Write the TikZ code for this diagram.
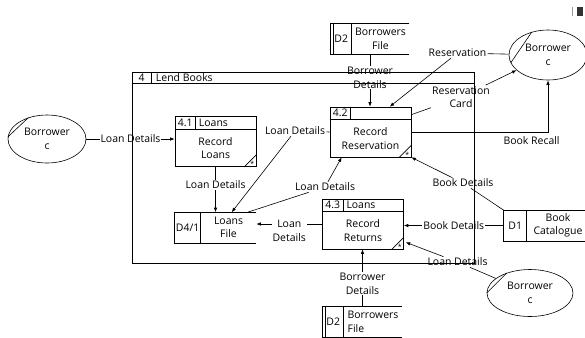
\documentclass[tikz,border=0pt]{standalone}
\usepackage{fontspec}
\setmainfont{Open Sans}
\usetikzlibrary{arrows.meta,positioning,shapes.geometric,calc}

\tikzset{
  pbox/.style={draw, minimum width=81bp, minimum height=50bp, inner sep=0pt},
  store/.style={minimum height=30bp, inner sep=0pt},
  ent/.style={draw, ellipse, align=center, inner sep=0pt},
  lbl/.style={fill=white, align=center, inner sep=1pt},
  flow/.style={-{Latex[length=4.5pt,width=3.5pt]}},
}

% process box: name, centre, number, title, text
\newcommand{\procbox}[5]{%
  \node[pbox] (#1) at (#2) {};
  \draw ($(#1.north west)+(0,13)$) -- ($(#1.north east)+(0,13)$);
  \draw ($(#1.north west)+(21,0)$) -- ($(#1.north west)+(21,13)$);
  \node at ($(#1.north west)+(10.5,6.5)$) {#3};
  \node[anchor=west] at ($(#1.north west)+(23,6.5)$) {#4};
  \node[align=center] at ($(#1.center)+(0,6.5)$) {#5};
  \draw ($(#1.south east)+(-12,0)$) -- ($(#1.south east)+(0,-12)$);
  \node[font=\fontsize{7}{7}\selectfont, inner sep=0pt] at ($(#1.south east)+(-4,-2.5)$) {*};
}

% data store: [align] name, centre, width, id width, id, text
\newcommand{\datastore}[7][center]{%
  \node[store, minimum width=#4] (#2) at (#3) {};
  \draw (#2.north east) -- (#2.north west) -- (#2.south west) -- (#2.south east);
  \draw ([xshift=#5]#2.north west) -- ([xshift=#5]#2.south west);
  \node at ($(#2.west)!0.5!([xshift=#5]#2.west)$) {#6};
  \node[align=#1] at ($([xshift=#5]#2.west)!0.5!(#2.east)$) {#7};
}

\begin{document}
\begin{tikzpicture}[x=1bp, y=-1bp, line width=0.6pt,
    every node/.style={font=\fontsize{10.5}{13.5}\selectfont, inner sep=1pt}]
  \useasboundingbox (0,0) rectangle (585,337);

  % external entities
  \node[ent, minimum width=78bp, minimum height=48bp] (eL) at (47,139) {Borrower\\c};
  \node[ent, minimum width=78bp, minimum height=50bp] (eR) at (548,55) {Borrower\\c};
  \node[ent, minimum width=86bp, minimum height=47bp] (eB) at (530,293) {Borrower\\c};
  \draw (eL.177) -- (eL.131);
  \draw (eR.192) -- (eR.125);
  \draw (eB.180) -- (eB.139);

  % processes
  \procbox{p41}{215.5,141.5}{4.1}{Loans}{Record\\Loans}
  \procbox{p42}{370.5,132}{4.2}{}{Record\\Reservation}
  \procbox{p43}{363,224}{4.3}{Loans}{Record\\Returns}

  % data stores
  \datastore{d41}{215.5,227.5}{81bp}{26bp}{D4/1}{Loans\\File}
  \datastore{d2t}{370,39}{78bp}{21bp}{D2}{Borrowers\\File}
  \datastore[left]{d2b}{362.5,322}{79bp}{21bp}{D2}{Borrowers\\File}
  \datastore{d1}{546.5,225.5}{85bp}{23bp}{D1}{Book\\Catalogue}
  \draw ([xshift=3bp]d2t.north west) -- ([xshift=3bp]d2t.south west);
  \draw ([xshift=3bp]d2b.north west) -- ([xshift=3bp]d2b.south west);

  % labels at bends
  \node (lpl) at (295,131) {Loan Details};
  \node (lld) at (325,187) {Loan Details};
  \node (lres) at (457.5,53) {Reservation};
  \node[align=center] (lrc) at (461,97) {Reservation\\Card};
  \node (lbd) at (463,183) {Book Details};
  \node (llr) at (457.5,262) {Loan Details};

  % data flows
  \draw[flow] (eL.east) -- node[lbl]{Loan Details} (eL.east -| p41.west);
  \draw[flow] (p41.south) -- node[lbl, pos=0.4]{Loan Details} (p41.south |- d41.north);
  \draw[flow] (p42.west) -- (lpl) -- ($(d41.north west)+(57,0)$);
  \draw[flow] ($(d41.north west)+(73,0)$) -- (lld) -- ($(p42.south west)+(12,0)$);
  \draw[flow] (p43.west) -- node[lbl, yshift=-6.75bp]{Loan\\Details} (p43.west -| d41.east);
  \draw[flow] (d1.west) -- node[lbl]{Book Details} (d1.west -| p43.east);
  \draw[flow] (d1.north west) -- (lbd) -- (p42.south east);
  \draw[flow] (d2t.south) -- node[lbl, pos=0.45]{Borrower\\Details} (d2t.south |- p42.north);
  \draw[flow] (eR) -- (lres) -- ($(p42.north west)+(60,0)$);
  \draw[flow] ($(p42.north east)+(0,8)$) -- (lrc) -- (eR);
  \draw[flow] (p42.east) -| node[pos=0.44, below=3bp]{Book Recall} (eR.south);
  \draw[flow] (eB) -- (llr) -- ($(p43.south east)+(2,-7)$);
  \draw[flow] (d2b.north) -- node[lbl, pos=0.4]{Borrower\\Details} (d2b.north |- p43.south);

  % lend books frame
  \node[draw, minimum width=342bp, minimum height=191bp, inner sep=0pt] (lend) at (303,167.5) {};
  \draw ($(lend.north west)+(0,12)$) -- ($(lend.north east)+(0,12)$);
  \draw ($(lend.north west)+(20,0)$) -- ($(lend.north west)+(20,12)$);
  \node at ($(lend.north west)+(10,6)$) {4};
  \node[anchor=west] at ($(lend.north west)+(23,6)$) {Lend Books};

  % corner mark
  \draw[black!40] (572,7) -- (572,16);
  \fill[black!80] (577,7) rectangle (583,16);
\end{tikzpicture}
\end{document}
